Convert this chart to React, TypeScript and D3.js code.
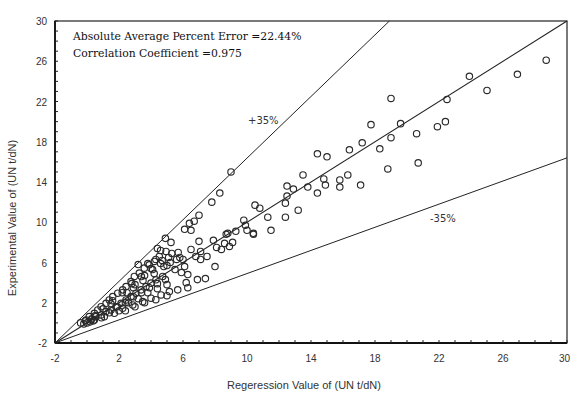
import React from "react";
import * as d3 from "d3";

const W = 571;
const H = 394;

const xTickLabels = [-2, 2, 6, 10, 14, 18, 22, 26, 30];
const yTickLabels = [-2, 2, 6, 10, 14, 18, 22, 26, 30];

// Reference lines: [x0, y0, x1, y1]
const lineMiddle = [-2, -2, 30, 30];
const linePlus = [-2, -2, 18.9, 30];
const lineMinus = [-2, -2, 30, 16.4];

const annotationLines = [
  "Absolute Average Percent Error =22.44%",
  "Correlation Coefficient =0.975",
];

// Scatter points (regression value, experimental value)
const regressionValues = [
  // upper right
  28.7, 26.9, 23.9, 25.0, 19.0, 22.5, 17.75, 19.6, 17.2, 19.0, 18.3, 20.6, 21.9, 22.4,
  16.4, 14.4, 15.0, 18.8, 20.7, 13.5, 14.8, 16.3, 15.8, 15.8, 17.1, 13.8, 14.4, 14.9,
  12.5, 12.9, 12.5, 12.4, 13.2, 12.4,
  // middle
  10.5, 10.8, 11.3, 10.4, 11.5, 9.8, 9.9, 10.0, 10.4, 9.3, 8.8, 9.1, 8.6, 9.0, 8.3, 7.8,
  7.9, 8.4, 8.1, 7.0, 6.5, 7.1, 6.8, 7.5, 7.1, 5.6, 6.0, 6.1, 5.5, 5.0, 8.0, 7.4, 6.9,
  8.9, 8.7, 7.0, 6.7, 6.4, 6.1, 6.5, 4.9, 5.25, 4.4, 4.6, 4.3, 3.8, 3.2,
  // dense upper band
  4.94, 4.52, 4.21, 3.89, 3.58, 3.27, 2.96, 2.75, 2.44, 2.23, 1.92, 1.61, 1.39, 1.19,
  0.88, 0.67, 0.46, 0.14, -0.06,
  5.3, 4.7, 4.0, 3.4, 2.8, 2.2, 1.6, 1.0, 0.5,
  // dense middle band
  4.73, 4.31, 4.0, 3.69, 3.38, 3.06, 2.75, 2.44, 2.13, 1.81, 1.5, 1.19, 0.88, 0.56, 0.25,
  4.9, 4.4, 3.9, 3.4, 2.9, 2.4, 1.9, 1.4, 0.9,
  // between bands
  1.5, 2.5, 3.0, 3.6, 4.1, 4.6, 5.1, 5.7,
  // lower band
  5.67, 5.15, 4.63, 4.0, 3.48, 2.86, 2.23, 1.71, 1.08, 0.46,
  3.0, 3.6, 4.3, 5.0, 6.3, 2.4,
  // extras
  2.0, 2.6, 3.2, 3.8, 4.4, 5.0, 2.9, 3.5, 4.2, 4.8, 5.9, 6.3, 5.2, 5.8, 6.2,
  -0.4, -0.2, 0.0, 0.2, 0.4, -0.1, 0.3,
];

const experimentalValues = [
  26.1, 24.7, 24.5, 23.1, 22.3, 22.2, 19.7, 19.8, 17.9, 18.4, 17.3, 18.8, 19.5, 20.0,
  17.2, 16.8, 16.5, 15.3, 15.9, 14.7, 14.3, 14.7, 14.2, 13.5, 13.7, 13.5, 12.9, 13.7,
  13.6, 13.3, 12.6, 11.9, 11.2, 10.5,
  11.7, 11.4, 10.5, 8.9, 9.2, 10.2, 9.7, 9.2, 8.8, 9.1, 8.9, 8.0, 7.9, 15.0, 12.9, 12.0,
  8.2, 7.3, 7.5, 8.1, 7.3, 7.1, 6.6, 6.6, 6.3, 6.3, 6.3, 5.6, 5.3, 5.7, 5.6, 4.4, 4.3,
  7.6, 8.8, 10.7, 10.1, 9.9, 9.3, 9.2, 8.4, 8.0, 7.4, 7.2, 6.3, 5.9, 5.8,
  7.10, 6.60, 6.10, 5.77, 5.44, 4.95, 4.61, 4.11, 3.61, 3.28, 2.95, 2.61, 2.28, 1.95,
  1.61, 1.28, 0.95, 0.62, 0.29,
  6.9, 6.2, 5.4, 4.6, 3.9, 3.0, 2.2, 1.4, 0.7,
  4.61, 4.28, 3.95, 3.61, 3.28, 2.95, 2.61, 2.28, 1.95, 1.61, 1.28, 1.12, 0.79, 0.62, 0.29,
  4.3, 3.9, 3.5, 3.0, 2.6, 2.0, 1.6, 1.0, 0.5,
  1.9, 3.0, 3.8, 4.7, 5.3, 5.9, 6.5, 7.0,
  3.28, 3.11, 2.78, 2.45, 2.11, 1.78, 1.45, 0.95, 0.62, 0.29,
  1.6, 2.0, 2.3, 2.7, 3.5, 1.2,
  1.2, 2.0, 2.4, 3.0, 3.4, 3.8, 3.5, 4.2, 4.9, 5.6, 5.0, 4.8, 6.0, 6.5, 4.0,
  0.0, -0.1, 0.0, 0.1, 0.2, 0.2, 0.4,
];

const M = { left: 55, right: 567, top: 21, bottom: 343 };

export default function App() {
  const x = d3.scaleLinear().domain([-2, 30]).range([M.left, M.right]);
  const y = d3.scaleLinear().domain([-2, 30]).range([M.bottom, M.top]);
  const minorTicks = d3.range(-2, 31, 1);
  const points = regressionValues.map((v, i) => [v, experimentalValues[i]]);
  const lineGen = d3.line<number[]>().x((d) => x(d[0])).y((d) => y(d[1]));
  const seg = (l: number[]) => lineGen([[l[0], l[1]], [l[2], l[3]]]) || "";
  const ink = "#222";
  const lastX = xTickLabels[xTickLabels.length - 1];

  return (
    <div style={{ position: "absolute", left: 0, top: 0 }}>
      <svg width={W} height={H} style={{ display: "block", background: "#fff" }}>
        {/* frame */}
        <rect x={M.left} y={M.top} width={M.right - M.left} height={M.bottom - M.top}
          fill="none" stroke={ink} strokeWidth={1.2} />
        <line x1={M.left} x2={M.right} y1={M.bottom} y2={M.bottom} stroke="#111" strokeWidth={1.8} />
        <line x1={M.left} x2={M.left} y1={M.top} y2={M.bottom} stroke="#111" strokeWidth={1.8} />
        {/* minor ticks */}
        {minorTicks.map((t) => (
          <line key={"xt" + t} x1={x(t)} x2={x(t)} y1={M.bottom} y2={M.bottom - 3} stroke={ink} strokeWidth={1} />
        ))}
        {minorTicks.map((t) => (
          <line key={"yt" + t} x1={M.left} x2={M.left + 3} y1={y(t)} y2={y(t)} stroke={ink} strokeWidth={1} />
        ))}
        {/* tick labels */}
        {xTickLabels.map((t) => (
          <text key={"xl" + t} x={t === lastX ? W - 1 : x(t)} y={M.bottom + 19}
            textAnchor={t === lastX ? "end" : "middle"}
            fontFamily="Liberation Sans, Arial, sans-serif" fontSize={10} fill="#333">{t}</text>
        ))}
        {yTickLabels.map((t) => (
          <text key={"yl" + t} x={M.left - 8} y={y(t) + 4} textAnchor="end"
            fontFamily="Liberation Sans, Arial, sans-serif" fontSize={10} fill="#333">{t}</text>
        ))}
        {/* reference lines */}
        <path d={seg(lineMiddle)} stroke={ink} strokeWidth={1.1} fill="none" />
        <path d={seg(linePlus)} stroke={ink} strokeWidth={1} fill="none" />
        <path d={seg(lineMinus)} stroke={ink} strokeWidth={1} fill="none" />
        {/* points */}
        {points.map((p, i) => (
          <circle key={i} cx={x(p[0])} cy={y(p[1])} r={3.2} fill="none" stroke="#2a2a2a" strokeWidth={1.15} />
        ))}
        {/* line labels */}
        <text x={248} y={124} fontFamily="DejaVu Sans, sans-serif" fontSize={10} fill="#333">+35%</text>
        <text x={430} y={222} fontFamily="DejaVu Sans, sans-serif" fontSize={10} fill="#333">-35%</text>
        {/* annotation */}
        {annotationLines.map((s, i) => (
          <text key={s} x={73} y={40 + i * 17} fontFamily="DejaVu Serif, serif" fontSize={10.8} fill="#111">{s}</text>
        ))}
        {/* axis titles */}
        <text x={304} y={389} textAnchor="middle" fontFamily="Liberation Sans, Arial, sans-serif"
          fontSize={11} fill="#333">Regeression Value of (UN t/dN)</text>
        <text transform={`translate(16,218) rotate(-90)`} textAnchor="middle"
          fontFamily="Liberation Sans, Arial, sans-serif" fontSize={11} fill="#333">Experimental Value of (UN t/dN)</text>
      </svg>
    </div>
  );
}
